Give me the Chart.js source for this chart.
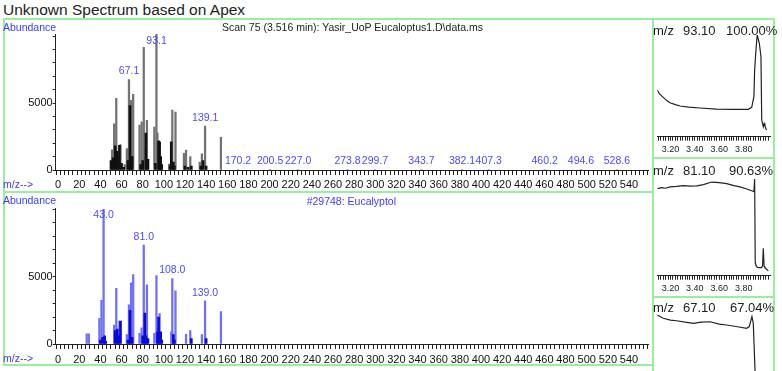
<!DOCTYPE html>
<html>
<head>
<meta charset="utf-8">
<script src="https://cdn.jsdelivr.net/npm/chart.js@4.4.1/dist/chart.umd.min.js"></script>
<style>
  body { margin:0; width:782px; height:371px; overflow:hidden; background:#fff; position:relative;
         font-family:"Liberation Sans", Arial, sans-serif; }
  .t { position:absolute; white-space:pre; line-height:1; }
  .ln { position:absolute; background:#9bee9f; }
  canvas { position:absolute; }
</style>
</head>
<body>
<div class="t" style="left:3px;top:2px;font-size:15.5px;color:#222">Unknown Spectrum based on Apex</div>

<!-- panel frames -->
<div class="ln" style="left:3px;top:18px;width:772px;height:2px"></div>
<div class="ln" style="left:3px;top:18px;width:2px;height:348px"></div>
<div class="ln" style="left:3px;top:191px;width:651px;height:2px"></div>
<div class="ln" style="left:3px;top:364px;width:651px;height:2px"></div>
<div class="ln" style="left:652px;top:18px;width:2px;height:360px"></div>
<div class="ln" style="left:773px;top:18px;width:2px;height:360px"></div>
<div class="ln" style="left:652px;top:157px;width:123px;height:2px"></div>
<div class="ln" style="left:652px;top:296px;width:123px;height:2px"></div>

<canvas id="specTop" width="650" height="172" style="left:3px;top:19px"></canvas>
<canvas id="specBot" width="650" height="172" style="left:3px;top:192px"></canvas>
<canvas id="chrom1" width="122" height="139" style="left:653px;top:19px"></canvas>
<canvas id="chrom2" width="122" height="139" style="left:653px;top:158px"></canvas>
<canvas id="chrom3" width="122" height="139" style="left:653px;top:297px"></canvas>

<div class="t" style="left:3px;top:22.4px;font-size:10.5px;color:#3a3aff">Abundance</div>
<div class="t" style="left:222px;top:22.4px;font-size:10.5px;color:#222">Scan 75 (3.516 min): Yasir_UoP Eucaloptus1.D\data.ms</div>
<div class="t" style="left:3px;top:178.5px;font-size:10.5px;color:#3a3aff">m/z--&gt;</div>
<div class="t" style="left:3px;top:195.2px;font-size:10.5px;color:#3a3aff">Abundance</div>
<div class="t" style="left:396px;top:195.8px;font-size:10.5px;color:#3a3aff;transform:translateX(-100%)">#29748: Eucalyptol</div>
<div class="t" style="left:3px;top:353px;font-size:10.5px;color:#3a3aff">m/z--&gt;</div>

<div class="t" style="left:653px;top:24.2px;font-size:13px;color:#222">m/z</div>
<div class="t" style="left:683px;top:24.2px;font-size:13px;color:#222">93.10</div>
<div class="t" style="left:726px;top:24.2px;font-size:13px;color:#222">100.00%</div>
<div class="t" style="left:653px;top:163.7px;font-size:13px;color:#222">m/z</div>
<div class="t" style="left:683px;top:163.7px;font-size:13px;color:#222">81.10</div>
<div class="t" style="left:729px;top:163.7px;font-size:13px;color:#222">90.63%</div>
<div class="t" style="left:653px;top:300.7px;font-size:13px;color:#222">m/z</div>
<div class="t" style="left:683px;top:300.7px;font-size:13px;color:#222">67.10</div>
<div class="t" style="left:730px;top:300.7px;font-size:13px;color:#222">67.04%</div>

<script>
// scan spectrum (top), main sticks and darker side sticks
const topMz = [51, 53, 55, 57, 59, 63, 65, 67, 68, 69, 71, 77, 79, 81, 82, 84, 91, 93, 94, 95,
  105, 108, 111, 119, 121, 125, 134, 136, 139, 154,
  170.2, 200.5, 227.0, 273.8, 299.7, 343.7, 382.1, 407.3, 460.2, 494.6, 528.6];
const topAb = [1500, 3450, 5350, 1000, 1900, 400, 1600, 6750, 5100, 5200, 5650, 3350, 3600, 9150, 1600, 3700, 3200, 10200, 2750, 2200,
  450, 4480, 4330, 1240, 1490, 1000, 600, 1200, 3280, 2440,
  40, 40, 40, 40, 40, 40, 40, 40, 40, 40, 40];
const topDarkMz = [50, 52, 54, 56, 58, 60, 62, 66, 68, 70, 78, 80, 83, 85, 92, 95, 96, 97, 98, 106, 107, 109, 110, 120, 123, 126, 135, 137, 140];
const topDarkAb = [700, 900, 1800, 1400, 1850, 500, 200, 700, 4800, 1000, 400, 700, 2750, 800, 500, 2150, 2100, 1000, 400, 300, 2100, 600, 300, 300, 200, 300, 300, 700, 300];
const topLabels = ['67.1', '93.1', '139.1', '170.2', '200.5', '227.0', '273.8', '299.7', '343.7', '382.1', '407.3', '460.2', '494.6', '528.6'];

// library spectrum (bottom)
const botMz = [27, 29, 39, 41, 43, 53, 55, 58, 65, 67, 69, 71, 77, 79, 81, 84, 91, 93, 96, 107, 108, 111, 121, 125, 136, 139, 154];
const botAb = [750, 750, 1900, 3250, 10000, 1400, 4130, 1700, 700, 2900, 4550, 5150, 800, 1200, 7350, 4400, 800, 5080, 2250, 900, 4850, 3950, 720, 1000, 700, 3200, 2400];
const botDarkMz = [40, 42, 44, 45, 54, 56, 57, 59, 66, 68, 70, 80, 82, 83, 85, 94, 95, 97, 98, 109, 110, 126, 140];
const botDarkAb = [300, 500, 600, 200, 1000, 1100, 600, 1700, 300, 2500, 500, 600, 2300, 600, 400, 900, 2000, 900, 300, 700, 300, 400, 400];
const botLabels = ['43.0', '81.0', '108.0', '139.0'];

// abundance axis ticks (only 0 and 5000 carry a label)
const abundTicks = [0, 1000, 2000, 3000, 4000, 5000, 6000, 7000, 8000, 9000, 10000];
const abundLabels = [0, 5000];

// ion chromatograms (time in min, % of panel height)
const ion93Time = [3.092, 3.11, 3.141, 3.17, 3.196, 3.24, 3.278, 3.35, 3.442, 3.579, 3.712, 3.838, 3.866, 3.884, 3.890, 3.901, 3.911, 3.928, 3.942, 3.948, 3.961, 3.968, 3.975, 3.982, 3.989];
const ion93Pct = [45.9, 42, 38.7, 35.5, 33.4, 31.5, 30.2, 29, 28.2, 27.2, 26.9, 26.9, 28.9, 39.3, 65.6, 85.3, 100, 92.1, 78.7, 16.4, 9.8, 13, 10.5, 8, 6.6];
const ion81Time = [3.092, 3.13, 3.16, 3.196, 3.25, 3.305, 3.36, 3.415, 3.47, 3.538, 3.60, 3.661, 3.72, 3.770, 3.82, 3.866, 3.884, 3.890, 3.895, 3.905, 3.920, 3.948, 3.955, 3.961, 3.968, 3.975, 4.002];
const ion81Pct = [85.7, 86.5, 86, 87.3, 87.8, 88.6, 88.0, 88.3, 89.5, 92.1, 91.5, 90.5, 88.5, 87.3, 85.5, 83.5, 82.6, 95, 12.7, 9, 7.9, 7.9, 10, 27, 9, 7.9, 4.8];
const ion67Time = [3.092, 3.141, 3.20, 3.251, 3.32, 3.387, 3.45, 3.524, 3.60, 3.661, 3.75, 3.825, 3.846, 3.868, 3.879, 3.893, 3.90, 3.93, 3.96, 3.99];
const ion67Pct = [98, 94.8, 93, 92.4, 91, 89.9, 91, 91.4, 89, 88.2, 86.5, 85.0, 86.6, 96.4, 89.9, 44.0, 8, 5, 6, 4];
const timeLabels = [3.2, 3.4, 3.6, 3.8];

Chart.defaults.font.family = '"Liberation Sans", Arial, sans-serif';

function heightAt(mzs, abs, m) {
  let h = 0;
  mzs.forEach((v, i) => { if (Math.abs(v - m) < 0.6) h = Math.max(h, abs[i]); });
  return h;
}

const peakLabels = {
  id: 'peakLabels',
  afterDatasetsDraw(chart, args, opts) {
    const { ctx, chartArea, scales } = chart;
    ctx.save();
    ctx.font = '10.5px "Liberation Sans", Arial, sans-serif';
    ctx.fillStyle = opts.color;
    ctx.textAlign = 'center';
    ctx.textBaseline = 'bottom';
    opts.texts.forEach(txt => {
      const m = parseFloat(txt);
      const x = scales.x.getPixelForValue(m);
      const y = scales.y.getPixelForValue(heightAt(opts.mz, opts.ab, m));
      ctx.fillText(txt, x, Math.max(y - 3, chartArea.top + 12));
    });
    ctx.restore();
  }
};

function spectrum(id, cfg) {
  const pts = (mz, ab) => mz.map((m, i) => ({ x: m, y: ab[i] }));
  return new Chart(document.getElementById(id), {
    type: 'bar',
    data: {
      datasets: [
        { data: pts(cfg.darkMz, cfg.darkAb), backgroundColor: cfg.darkColor, barThickness: 2, grouped: false, order: 1 },
        { data: pts(cfg.mz, cfg.ab), backgroundColor: cfg.color, barThickness: 1.6, grouped: false, order: 2 }
      ]
    },
    options: {
      responsive: false,
      animation: false,
      devicePixelRatio: 1,
      layout: { padding: { left: 0, right: 5, top: cfg.padTop, bottom: 0 } },
      plugins: {
        legend: { display: false },
        tooltip: { enabled: false },
        peakLabels: { texts: cfg.labels, mz: cfg.mz, ab: cfg.ab, color: cfg.labelColor }
      },
      scales: {
        x: {
          type: 'linear', min: -2.3, max: 558, offset: false,
          border: { color: '#222' },
          grid: { drawOnChartArea: false, tickLength: 5, tickColor: '#222' },
          ticks: {
            stepSize: 4, autoSkip: false, maxRotation: 0, includeBounds: false, padding: cfg.tickPad,
            color: '#111', font: { size: 11 },
            callback: v => (v % 20 === 0 && v >= 0 && v <= 540) ? String(v) : ''
          },
          afterFit: s => { s.height = cfg.xh; }
        },
        y: {
          min: 0, max: cfg.ymax,
          border: { color: '#222' },
          grid: { drawOnChartArea: false, tickLength: 3, tickColor: '#222' },
          ticks: {
            autoSkip: false, padding: 0, color: '#111', font: { size: 11 },
            callback: v => abundLabels.includes(v) ? String(v) : ''
          },
          afterBuildTicks: s => { s.ticks = abundTicks.map(v => ({ value: v })); },
          afterFit: s => { s.width = 52.7; }
        }
      }
    },
    plugins: [peakLabels]
  });
}

spectrum('specTop', {
  mz: topMz, ab: topAb, darkMz: topDarkMz, darkAb: topDarkAb, labels: topLabels,
  color: '#737373', darkColor: '#111', labelColor: '#4b4bff', padTop: 15, xh: 21, ymax: 10150, tickPad: 3
});
spectrum('specBot', {
  mz: botMz, ab: botAb, darkMz: botDarkMz, darkAb: botDarkAb, labels: botLabels,
  color: '#6e6eff', darkColor: '#0a0ad8', labelColor: '#4b4bff', padTop: 16, xh: 20, ymax: 10100, tickPad: 4
});

function chromatogram(id, times, pct) {
  return new Chart(document.getElementById(id), {
    type: 'line',
    data: {
      datasets: [{
        data: times.map((t, i) => ({ x: t, y: pct[i] })),
        borderColor: '#222', borderWidth: 1.2, pointRadius: 0, tension: 0
      }]
    },
    options: {
      responsive: false,
      animation: false,
      devicePixelRatio: 1,
      layout: { padding: { left: 4.3, right: 5, top: 16, bottom: 0 } },
      plugins: { legend: { display: false }, tooltip: { enabled: false } },
      scales: {
        x: {
          type: 'linear', min: 3.092, max: 4.016,
          border: { color: '#222' },
          grid: { drawOnChartArea: false, tickLength: 4, tickColor: '#222' },
          ticks: {
            stepSize: 0.02, autoSkip: false, maxRotation: 0, includeBounds: false, padding: 3.5,
            color: '#222', font: { size: 9 },
            callback: v => timeLabels.some(a => Math.abs(a - v) < 1e-6) ? v.toFixed(2) : ''
          },
          afterFit: s => { s.height = 21.3; }
        },
        y: { display: false, min: 0, max: 100 }
      }
    }
  });
}

chromatogram('chrom1', ion93Time, ion93Pct);
chromatogram('chrom2', ion81Time, ion81Pct);
chromatogram('chrom3', ion67Time, ion67Pct);
</script>
</body>
</html>
